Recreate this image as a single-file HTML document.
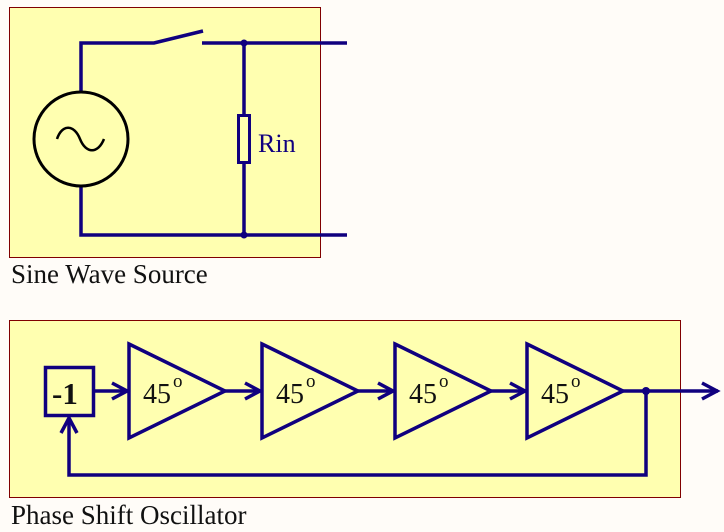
<!DOCTYPE html>
<html><head><meta charset="utf-8"><style>
html,body{margin:0;padding:0;background:#fffcf8;}
svg{display:block;}
text{font-family:"Liberation Serif",serif;}
</style></head><body>
<svg width="724" height="532" viewBox="0 0 724 532" xmlns="http://www.w3.org/2000/svg">
<rect x="9.5" y="7.5" width="311" height="250" fill="#ffffb0" stroke="#800000" stroke-width="1"/>
<rect x="9.5" y="320.5" width="671" height="177" fill="#ffffb0" stroke="#800000" stroke-width="1"/>
<g stroke="#10007f" stroke-width="3.5" fill="none">
<polyline points="81,91 81,43 154,43 203,31"/>
<line x1="202" y1="43" x2="347" y2="43"/>
<polyline points="81,187 81,235 347,235"/>
<line x1="244" y1="43" x2="244" y2="115"/>
<line x1="244" y1="163" x2="244" y2="235"/>
<rect x="238.5" y="115.5" width="11" height="47" stroke-width="3"/>
</g>
<circle cx="244" cy="43" r="3.5" fill="#10007f"/>
<circle cx="244" cy="235" r="3.5" fill="#10007f"/>
<circle cx="81" cy="139" r="47" fill="none" stroke="#000" stroke-width="3"/>
<path d="M57,139 C62,124 74,124 80,139 C86,154 98,154 104,139" fill="none" stroke="#000" stroke-width="2.5"/>
<text x="258" y="152" font-size="26" fill="#10007f">Rin</text>
<text x="11" y="283" font-size="27" fill="#111">Sine Wave Source</text>

<g stroke="#10007f" stroke-width="3.5" fill="none" stroke-linejoin="miter">
<rect x="45.5" y="367.5" width="48" height="48"/>
<line x1="94" y1="391" x2="128" y2="391"/>
<polyline points="112,383 127,391 112,399"/>
<polygon points="129,344 225,391 129,438"/>
<line x1="225" y1="391" x2="261" y2="391"/>
<polyline points="245,383 260,391 245,399"/>
<polygon points="262,344 358,391 262,438"/>
<line x1="358" y1="391" x2="394" y2="391"/>
<polyline points="378,383 393,391 378,399"/>
<polygon points="395,344 491,391 395,438"/>
<line x1="491" y1="391" x2="526" y2="391"/>
<polyline points="510,383 525,391 510,399"/>
<polygon points="527,344 623,391 527,438"/>
<line x1="623" y1="391" x2="718" y2="391"/>
<polyline points="702,383 717,391 702,399"/>
<polyline points="646,391 646,475 69,475 69,418"/>
<polyline points="61,433 69,418 77,433"/>
</g>
<circle cx="646" cy="391" r="4" fill="#10007f"/>
<text x="52" y="404" font-size="31" font-weight="bold" fill="#111">-1</text>
<g font-size="28" fill="#111">
<text x="143" y="403">45</text><text x="173" y="387" font-size="19">o</text>
<text x="276" y="403">45</text><text x="306" y="387" font-size="19">o</text>
<text x="409" y="403">45</text><text x="439" y="387" font-size="19">o</text>
<text x="541" y="403">45</text><text x="571" y="387" font-size="19">o</text>
</g>
<text x="11" y="524" font-size="27" fill="#111">Phase Shift Oscillator</text>
</svg>
</body></html>
